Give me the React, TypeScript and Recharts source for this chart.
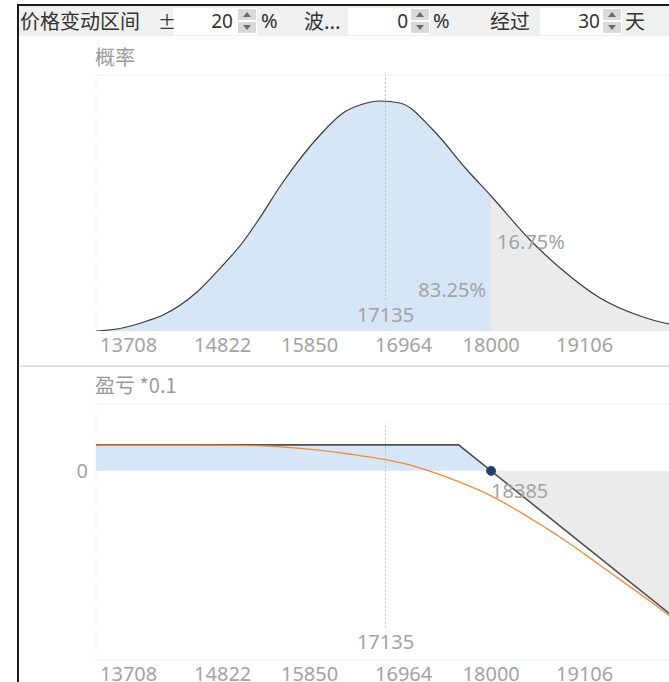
import React from 'react';
import { ComposedChart, Area, Line, XAxis, YAxis, ReferenceLine, ReferenceDot } from 'recharts';

const NUM_FONT = '"Segoe UI", "Noto Sans", "Noto Sans CJK SC", sans-serif';
const CJK_FONT = '"Microsoft YaHei", "Noto Sans CJK SC", "Noto Sans", sans-serif';

// ---- axis / labels ----
const priceTicks = [13708, 14822, 15850, 16964, 18000, 19106];
const priceDomain: [number, number] = [13708, 20562];
const currentPrice = 17135;
const breakEven = 18385;
const probBelowLabel = '83.25%';
const probAboveLabel = '16.75%';
const topTitle = '概率';
const bottomTitle = '盈亏 *0.1';

// ---- controls ----
const rangeLabel = '价格变动区间';
const rangePct = 20;
const volLabel = '波...';
const volPct = 0;
const daysLabel = '经过';
const days = 30;

// ---- probability density (relative) ----
const densityPrices = [13708, 13957, 14312, 14501, 14904, 15212, 15448, 15614, 15922, 16360, 16632, 16869, 17070, 17307, 17698, 18101, 18385, 18846, 19202, 19675, 20149, 20492, 20562];
const densityValues = [0, 2, 10, 16, 39, 66, 89, 109, 149, 196, 218, 227, 230, 228, 201, 161, 135, 91, 63, 33, 15, 7, 6];

// ---- P&L at expiry (*0.1) ----
const payoffPrices = [13708, 18000, 18385, 20562];
const payoffValues = [38.5, 38.5, 0, -218];

// ---- P&L after N days (*0.1) ----
const curvePrices = [13708, 15000, 15579, 16000, 16324, 16700, 17135, 17500, 17651, 18000, 18385, 18716, 19000, 19261, 19500, 19912, 20300, 20562];
const curveValues = [38.2, 38.0, 37.4, 34.5, 31, 25, 16.5, 6, 0, -16, -37, -60, -82, -103, -124, -161, -196, -221];

const densityRows = densityPrices.map((x, i) => ({ x, p: densityValues[i] }));
const densityBelow = densityRows.filter((r) => r.x <= breakEven);
const densityAbove = densityRows.filter((r) => r.x >= breakEven);
const payoffRows = payoffPrices.map((x, i) => ({ x, v: payoffValues[i] }));
const payoffBelow = payoffRows.filter((r) => r.x <= breakEven);
const payoffAbove = payoffRows.filter((r) => r.x >= breakEven);
const curveRows = curvePrices.map((x, i) => ({ x, c: curveValues[i] }));

const LABEL_GRAY = '#a3a3a3';
const BLUE = '#d6e6f7';
const GRAY = '#ebebeb';

const PriceTick = (props: any) => {
  const { x, y, payload } = props;
  return (
    <text x={x + 4} y={y + 5} dominantBaseline="central" textAnchor="start" fill={LABEL_GRAY} fontSize={20} fontFamily={NUM_FONT}>
      {payload.value}
    </text>
  );
};

const textShape = (text: string, anchor: string, dx: number) => (props: any) => (
  <text x={props.cx + dx} y={props.cy} dominantBaseline="central" textAnchor={anchor} fill={LABEL_GRAY} fontSize={20} fontFamily={NUM_FONT}>
    {text}
  </text>
);

const Spinner = ({ left }: { left: number }) => (
  <div style={{ position: 'absolute', left, top: 9, width: 18, height: 24 }}>
    <div style={{ position: 'relative', height: 11, background: '#d9d9d9', marginBottom: 2 }}>
      <div style={{ position: 'absolute', left: 5, top: 3, width: 0, height: 0, borderLeft: '4px solid transparent', borderRight: '4px solid transparent', borderBottom: '5px solid #6b6b6b' }} />
    </div>
    <div style={{ position: 'relative', height: 11, background: '#d9d9d9' }}>
      <div style={{ position: 'absolute', left: 5, top: 3, width: 0, height: 0, borderLeft: '4px solid transparent', borderRight: '4px solid transparent', borderTop: '5px solid #6b6b6b' }} />
    </div>
  </div>
);

const Txt = ({ left, top, size, children, color = '#333', font = CJK_FONT, width, align }: any) => (
  <div style={{ position: 'absolute', left, top, fontSize: size, lineHeight: '30px', height: 30, color, fontFamily: font, whiteSpace: 'nowrap', width, textAlign: align }}>
    {children}
  </div>
);

export default function App() {
  return (
    <div style={{ position: 'absolute', left: 0, top: 0, width: 669, height: 682, overflow: 'hidden', background: '#fff' }}>
      {/* control bar */}
      <div style={{ position: 'absolute', left: 19, top: 6, width: 650, height: 30, background: '#f0f0f0' }} />
      <div style={{ position: 'absolute', left: 173, top: 8, width: 84, height: 27, background: '#fff' }} />
      <div style={{ position: 'absolute', left: 348, top: 8, width: 82, height: 27, background: '#fff' }} />
      <div style={{ position: 'absolute', left: 540, top: 8, width: 82, height: 27, background: '#fff' }} />
      <Txt left={20} top={6} size={20}>{rangeLabel}</Txt>
      <Txt left={158} top={6} size={18}>±</Txt>
      <Txt left={173} top={6} size={19} width={60} align="right" font={NUM_FONT}>{rangePct}</Txt>
      <Spinner left={238} />
      <Txt left={261} top={6} size={20} font={NUM_FONT}>%</Txt>
      <Txt left={304} top={6} size={20}>{volLabel}</Txt>
      <Txt left={348} top={6} size={19} width={60} align="right" font={NUM_FONT}>{volPct}</Txt>
      <Spinner left={411} />
      <Txt left={433} top={6} size={20} font={NUM_FONT}>%</Txt>
      <Txt left={490} top={6} size={20}>{daysLabel}</Txt>
      <Txt left={540} top={6} size={19} width={60} align="right" font={NUM_FONT}>{days}</Txt>
      <Spinner left={603} />
      <Txt left={625} top={6} size={20}>天</Txt>

      {/* frame */}
      <div style={{ position: 'absolute', left: 17, top: 4, width: 652, height: 2, background: '#1a1a1a' }} />
      <div style={{ position: 'absolute', left: 17, top: 4, width: 2, height: 678, background: '#1a1a1a' }} />

      {/* titles */}
      <Txt left={95} top={42} size={20} color="#9a9a9a">{topTitle}</Txt>
      <Txt left={95} top={370} size={20} color="#9a9a9a">{bottomTitle}</Txt>

      {/* separator */}
      <div style={{ position: 'absolute', left: 20, top: 365, width: 649, height: 2, background: '#dedede' }} />

      {/* top chart */}
      <div style={{ position: 'absolute', left: 0, top: 0 }}>
        <ComposedChart width={700} height={370} margin={{ top: 75, right: 25, bottom: 9, left: 96 }} data={densityRows}>
          <XAxis dataKey="x" type="number" domain={priceDomain} ticks={priceTicks} interval={0} tickLine={false} axisLine={false} tick={<PriceTick />} height={30} allowDataOverflow />
          <YAxis hide type="number" domain={[0, 256]} allowDataOverflow />
          <ReferenceLine y={256} stroke="#f0f0f0" />
          <ReferenceLine x={13708} stroke="#dddddd" strokeDasharray="1 2" />
          <Area data={densityBelow} dataKey="p" type="monotone" stroke="none" fill={BLUE} fillOpacity={1} isAnimationActive={false} />
          <Area data={densityAbove} dataKey="p" type="monotone" stroke="none" fill={GRAY} fillOpacity={1} isAnimationActive={false} />
          <ReferenceLine segment={[{ x: currentPrice, y: 31 }, { x: currentPrice, y: 256 }]} stroke="#c4c4c4" strokeDasharray="2 2" />
          <Line dataKey="p" type="monotone" stroke="#3a3a3a" strokeWidth={1.2} dot={false} isAnimationActive={false} />
          <ReferenceDot x={currentPrice} y={17} r={0} shape={textShape(String(currentPrice), 'middle', 0)} />
          <ReferenceDot x={breakEven} y={42} r={0} shape={textShape(probBelowLabel, 'end', -5)} />
          <ReferenceDot x={breakEven} y={90} r={0} shape={textShape(probAboveLabel, 'start', 6)} />
        </ComposedChart>
      </div>

      {/* bottom chart */}
      <div style={{ position: 'absolute', left: 0, top: 370 }}>
        <ComposedChart width={700} height={330} margin={{ top: 34, right: 25, bottom: 10, left: 0 }} data={payoffRows}>
          <XAxis dataKey="x" type="number" domain={priceDomain} ticks={priceTicks} interval={0} tickLine={false} axisLine={false} tick={<PriceTick />} height={30} allowDataOverflow />
          <YAxis type="number" domain={[-280, 99]} ticks={[0]} width={96} tickLine={false} axisLine={false} tick={{ fill: LABEL_GRAY, fontSize: 20, fontFamily: NUM_FONT }} allowDataOverflow />
          <ReferenceLine y={99} stroke="#f0f0f0" />
          <ReferenceLine y={-280} stroke="#eeeeee" />
          <ReferenceLine x={13708} stroke="#dddddd" strokeDasharray="1 2" />
          <Area data={payoffBelow} dataKey="v" type="linear" baseValue={0} stroke="none" fill={BLUE} fillOpacity={1} isAnimationActive={false} />
          <Area data={payoffAbove} dataKey="v" type="linear" baseValue={0} stroke="none" fill={GRAY} fillOpacity={1} isAnimationActive={false} />
          <ReferenceLine segment={[{ x: currentPrice, y: -232 }, { x: currentPrice, y: 71 }]} stroke="#c4c4c4" strokeDasharray="2 2" />
          <Line dataKey="v" type="linear" stroke="#505050" strokeWidth={1.6} dot={false} isAnimationActive={false} />
          <Line data={curveRows} dataKey="c" type="monotone" stroke="#f08b3c" strokeWidth={1.3} dot={false} isAnimationActive={false} />
          <ReferenceDot x={breakEven} y={0} r={4.5} fill="#1f3d66" stroke="#2c4b78" strokeWidth={1} />
          <ReferenceDot x={breakEven} y={-29.6} r={0} shape={textShape(String(breakEven), 'start', 0)} />
          <ReferenceDot x={currentPrice} y={-253} r={0} shape={textShape(String(currentPrice), 'middle', 0)} />
        </ComposedChart>
      </div>
    </div>
  );
}
